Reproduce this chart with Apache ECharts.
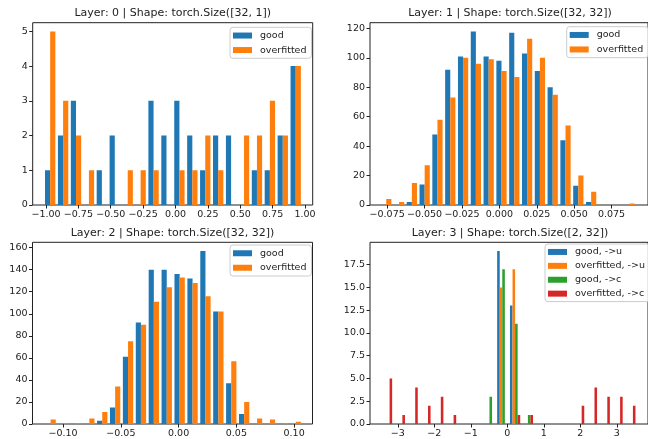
<!DOCTYPE html>
<html>
<head>
<meta charset="utf-8">
<style>html,body{margin:0;padding:0;background:#fff;}#chart{width:648px;height:439px;}</style>
<script src="https://cdn.jsdelivr.net/npm/echarts@6/dist/echarts.min.js"></script>
</head>
<body>
<div id="chart"></div>
<script>
// ---- data (histogram counts per bin, 20 bins per layer) ----
const titles = [
  'Layer: 0 | Shape: torch.Size([32, 1])',
  'Layer: 1 | Shape: torch.Size([32, 32])',
  'Layer: 2 | Shape: torch.Size([32, 32])',
  'Layer: 3 | Shape: torch.Size([2, 32])'
];
const binCount = 20;
const layer0Range = [-1.0177, 0.9783];
const layer1Range = [-0.0799, 0.0913];
const layer2Range = [-0.1164, 0.1070];
const layer3Range = [-3.470, 3.544];

const layer0Good = [1,2,3,0,1,2,0,0,3,2,3,2,1,2,2,0,1,1,2,4];
const layer0Over = [5,3,2,1,0,0,1,1,1,0,1,1,2,1,0,2,2,3,2,4];
const layer1Good = [0,0,2,14,48,92,101,118,101,98,117,103,91,80,44,13,2,0,0,0];
const layer1Over = [4,2,15,27,58,73,100,96,99,91,87,113,100,75,54,20,9,0,0,1];
const layer2Good = [0,0,0,0,3,15,61,92,140,140,136,132,157,102,37,9,0,0,0,0];
const layer2Over = [4,1,1,5,11,34,75,90,111,124,133,128,116,102,57,20,5,4,1,2];
const layer3GoodU = [0,0,0,0,0,0,0,0,0,19,13,0,0,0,0,0,0,0,0,0];
const layer3OverU = [0,0,0,0,0,0,0,0,0,15,17,0,0,0,0,0,0,0,0,0];
const layer3GoodC = [0,0,0,0,0,0,0,0,3,17,11,1,0,0,0,0,0,0,0,0];
const layer3OverC = [5,1,4,2,3,1,0,0,0,0,1,1,0,0,0,2,4,3,3,2];

const layer0XTicks = [-1,-0.75,-0.5,-0.25,0,0.25,0.5,0.75,1];
const layer0YTicks = [0,1,2,3,4,5];
const layer1XTicks = [-0.075,-0.05,-0.025,0,0.025,0.05,0.075];
const layer1YTicks = [0,20,40,60,80,100,120];
const layer2XTicks = [-0.1,-0.05,0,0.05,0.1];
const layer2YTicks = [0,20,40,60,80,100,120,140,160];
const layer3XTicks = [-3,-2,-1,0,1,2,3];
const layer3YTicks = [0,2.5,5,7.5,10,12.5,15,17.5];

const C_BLUE = '#1f77b4', C_ORANGE = '#ff7f0e', C_GREEN = '#2ca02c', C_RED = '#d62728';
const FONT = 'DejaVu Sans';

// ---- build ----
function binsToData(range, counts, idx, n) {
  const w = (range[1] - range[0]) / binCount;
  const bw = 0.8 * w / n;
  const out = [];
  counts.forEach((c, k) => {
    const left = range[0] + k * w + 0.1 * w + idx * bw;
    out.push([left, left + bw, c]);
  });
  return out;
}
function renderBar(params, api) {
  const p0 = api.coord([api.value(0), api.value(2)]);
  const p1 = api.coord([api.value(1), 0]);
  return { type: 'rect', shape: { x: p0[0], y: p0[1], width: p1[0] - p0[0], height: p1[1] - p0[1] },
           style: { fill: api.visual('color') } };
}
function fmt(dec) {
  return v => (Math.abs(v) < 1e-12 ? 0 : v).toFixed(dec).replace('-', '\u2212');
}
const grids = [
  { left: 32.7, top: 22.7, width: 280, height: 182.3 },
  { left: 370, top: 22.7, width: 280, height: 182.3 },
  { left: 32.5, top: 242.3, width: 280, height: 181.7 },
  { left: 370, top: 242.3, width: 280, height: 181.7 }
].map(g => Object.assign({ show: true, borderColor: '#222', borderWidth: 1, backgroundColor: 'transparent' }, g));

const xSpec = [
  { min: -1.1027, max: 1.0595, ticks: layer0XTicks, dec: 2 },
  { min: -0.08648, max: 0.09936, ticks: layer1XTicks, dec: 3 },
  { min: -0.1265, max: 0.1159, ticks: layer2XTicks, dec: 2 },
  { min: -3.761, max: 3.852, ticks: layer3XTicks, dec: 0 }
];
const ySpec = [
  { min: 0, max: 5.25, ticks: layer0YTicks, dec: 0 },
  { min: 0, max: 123.9, ticks: layer1YTicks, dec: 0 },
  { min: 0, max: 164.85, ticks: layer2YTicks, dec: 0 },
  { min: 0, max: 19.95, ticks: layer3YTicks, dec: 1 }
];
const axisCommon = (s, i, pos) => ({
  type: 'value', gridIndex: i, min: s.min, max: s.max, position: pos,
  axisLine: { show: false, onZero: false },
  splitLine: { show: false },
  axisTick: { show: true, inside: false, length: 3.5, lineStyle: { color: '#222', width: 1 }, customValues: s.ticks },
  axisLabel: { customValues: s.ticks, formatter: fmt(s.dec), fontFamily: FONT, fontSize: 9.5, color: '#222', margin: 5 }
});
const xAxis = xSpec.map((s, i) => axisCommon(s, i, 'bottom'));
const yAxis = ySpec.map((s, i) => axisCommon(s, i, 'left'));

function mk(name, color, gi, range, counts, idx, n) {
  return { type: 'custom', name, xAxisIndex: gi, yAxisIndex: gi, clip: true,
    itemStyle: { color }, renderItem: renderBar, encode: { x: [0, 1], y: 2 },
    data: binsToData(range, counts, idx, n), silent: true };
}
const series = [
  mk('good', C_BLUE, 0, layer0Range, layer0Good, 0, 2),
  mk('overfitted', C_ORANGE, 0, layer0Range, layer0Over, 1, 2),
  mk('good', C_BLUE, 1, layer1Range, layer1Good, 0, 2),
  mk('overfitted', C_ORANGE, 1, layer1Range, layer1Over, 1, 2),
  mk('good', C_BLUE, 2, layer2Range, layer2Good, 0, 2),
  mk('overfitted', C_ORANGE, 2, layer2Range, layer2Over, 1, 2),
  mk('good, ->u', C_BLUE, 3, layer3Range, layer3GoodU, 0, 4),
  mk('overfitted, ->u', C_ORANGE, 3, layer3Range, layer3OverU, 1, 4),
  mk('good, ->c', C_GREEN, 3, layer3Range, layer3GoodC, 2, 4),
  mk('overfitted, ->c', C_RED, 3, layer3Range, layer3OverC, 3, 4)
];

const legendCommon = {
  orient: 'vertical', icon: 'rect', itemWidth: 19, itemHeight: 6, itemGap: 0,
  backgroundColor: 'rgba(255,255,255,0.8)', borderColor: '#cccccc', borderWidth: 1, borderRadius: 3,
  padding: [1, 5, 1, 3], selectedMode: false,
  textStyle: { fontFamily: FONT, fontSize: 9.5, color: '#222', lineHeight: 14.5, padding: [0, 0, 0, 3] }
};
const legend = [
  Object.assign({}, legendCommon, { left: 230, top: 27.3, data: ['good', 'overfitted'] }),
  Object.assign({}, legendCommon, { left: 566.7, top: 26.7, data: ['good', 'overfitted'] }),
  Object.assign({}, legendCommon, { left: 230, top: 245, data: ['good', 'overfitted'] }),
  Object.assign({}, legendCommon, { left: 545, top: 244, textStyle: Object.assign({}, legendCommon.textStyle, { lineHeight: 13.9 }),
    data: ['good, ->u', 'overfitted, ->u', 'good, ->c', 'overfitted, ->c'] })
];
const titleCenters = [[172.7, 7.5], [510, 7.5], [172.5, 227.5], [510, 227.5]];
const title = titles.map((t, i) => ({
  text: t, left: titleCenters[i][0], top: titleCenters[i][1], textAlign: 'center', padding: 0,
  textStyle: { fontFamily: FONT, fontSize: 11, fontWeight: 'normal', color: '#222' }
}));

const chart = echarts.init(document.getElementById('chart'), null, { renderer: 'canvas' });
chart.setOption({ animation: false, backgroundColor: '#fff', title, legend, grid: grids, xAxis, yAxis, series });
</script>
</body>
</html>
